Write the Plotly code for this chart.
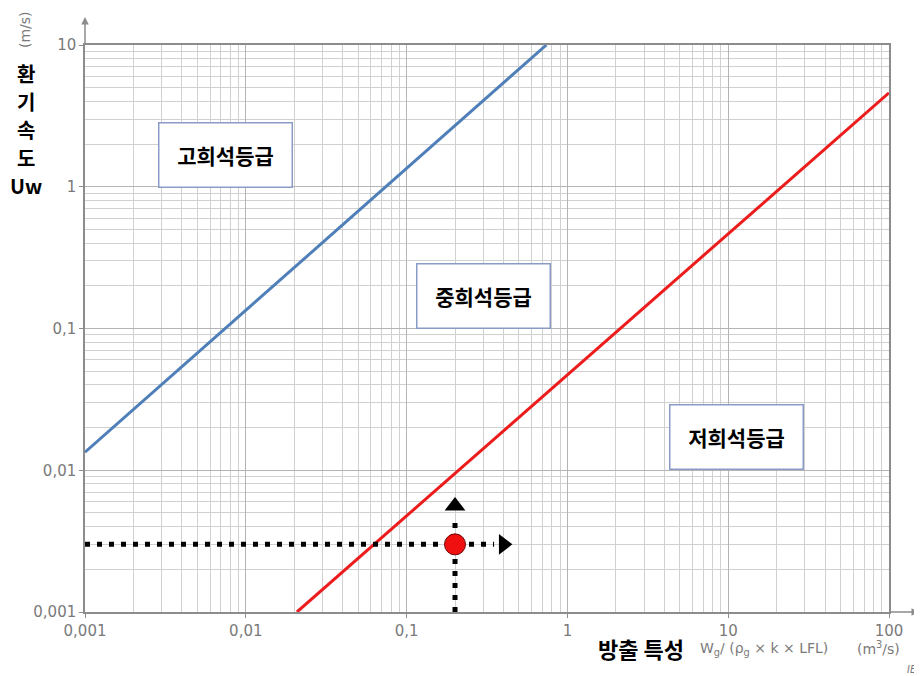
import plotly.graph_objects as go

# lines separating the dilution grades (log-log, slope 1)
high_x = [0.001, 0.74]
high_y = [0.0134, 10]
low_x = [0.0208, 100]
low_y = [0.001, 4.6]

# example point with guide arrows
point_x = [0.2]
point_y = [0.003]
hguide_x = [0.001, 0.35]
hguide_y = [0.003, 0.003]
vguide_x = [0.2, 0.2]
vguide_y = [0.001, 0.0044]
right_head_x = [0.4]
right_head_y = [0.003]
up_head_x = [0.2]
up_head_y = [0.0056]

x_ticks = [0.001, 0.01, 0.1, 1, 10, 100]
x_labels = ["0,001", "0,01", "0,1", "1", "10", "100"]
y_ticks = [0.001, 0.01, 0.1, 1, 10]
y_labels = ["0,001", "0,01", "0,1", "1", "10"]

grade_labels = ["고희석등급", "중희석등급", "저희석등급"]

GRAY = "#7a7a7a"
KFONT = "Noto Sans CJK KR"
LFONT = "DejaVu Sans"

# plot area in page pixels (page has an 8px body margin)
PL, PT, PR, PB = 85, 45, 889, 612
PW, PH = PR - PL, PB - PT


def px(x):
    return (x - PL) / PW


def py(y):
    return (PB - y) / PH


def label(x, y, text, font, **kw):
    kw.setdefault("xanchor", "center")
    fig.add_annotation(x=px(x), y=py(y), xref="paper", yref="paper", text=text,
                       showarrow=False, yanchor="middle", font=font, **kw)


fig = go.Figure()

fig.add_trace(go.Scatter(x=high_x, y=high_y, mode="lines",
                         line=dict(color="#4f7fb8", width=3), hoverinfo="skip"))
fig.add_trace(go.Scatter(x=low_x, y=low_y, mode="lines",
                         line=dict(color="#ec1c1c", width=3), hoverinfo="skip"))

dots = dict(color="black", width=5, dash="5px,7px")
fig.add_trace(go.Scatter(x=hguide_x, y=hguide_y, mode="lines", line=dots, cliponaxis=False))
fig.add_trace(go.Scatter(x=vguide_x, y=vguide_y, mode="lines", line=dots, cliponaxis=False))
fig.add_trace(go.Scatter(x=right_head_x, y=right_head_y, mode="markers",
                         marker=dict(symbol="triangle-right", size=18, color="black")))
fig.add_trace(go.Scatter(x=up_head_x, y=up_head_y, mode="markers",
                         marker=dict(symbol="triangle-up", size=18, color="black")))
fig.add_trace(go.Scatter(x=point_x, y=point_y, mode="markers",
                         marker=dict(size=21, color="#f01010", line=dict(color="#6a0000", width=1))))

axis_common = dict(
    type="log",
    showline=True,
    mirror=True,
    linecolor="#8c8c8c",
    linewidth=1.5,
    showgrid=True,
    gridcolor="#b4b4b4",
    gridwidth=1,
    ticks="outside",
    ticklen=4,
    tickcolor="#8c8c8c",
    tickfont=dict(family=LFONT, size=15, color=GRAY),
    minor=dict(showgrid=True, gridcolor="#d0d0d0", gridwidth=1, dtick="D1"),
    zeroline=False,
)

fig.update_layout(
    width=922,
    height=676,
    margin=dict(l=PL - 8, r=922 + 8 - PR, t=PT - 8, b=676 + 8 - PB),
    paper_bgcolor="white",
    plot_bgcolor="white",
    showlegend=False,
    xaxis=dict(axis_common, range=[-3, 2], tickvals=x_ticks, ticktext=x_labels),
    yaxis=dict(axis_common, range=[-3, 1], tickvals=y_ticks, ticktext=y_labels),
)

# grade boxes
box_pos = [(225.5, 155), (483, 295.5), (736.5, 437)]
for name, (bx, by) in zip(grade_labels, box_pos):
    label(bx, by, f"<b>{name}</b>", dict(family=KFONT, size=21, color="black"),
          width=132, height=63, borderpad=0, borderwidth=1.5,
          bordercolor="#8a9bc6", bgcolor="white")

# axis arrow extensions
fig.add_annotation(x=px(PL), y=py(17), xref="paper", yref="paper", ax=0, ay=28, text="",
                   showarrow=True, arrowhead=2, arrowsize=1, arrowwidth=1.5, arrowcolor="#8c8c8c")
fig.add_annotation(x=px(919), y=py(PB), xref="paper", yref="paper", ax=-30, ay=0, text="",
                   showarrow=True, arrowhead=2, arrowsize=1, arrowwidth=1.5, arrowcolor="#8c8c8c")

# y axis title
label(25, 30, "(m/s)", dict(family=LFONT, size=14, color=GRAY), textangle=-90)
for i, ch in enumerate(["환", "기", "속", "도", "Uw"]):
    label(26, 73 + 28.2 * i, f"<b>{ch}</b>", dict(family=KFONT, size=20, color="black"))

# x axis title
label(641, 648, "<b>방출 특성</b>", dict(family=KFONT, size=22, color="black"))
label(698, 649, "W<sub>g</sub>/ (ρ<sub>g</sub> × k × LFL)",
      dict(family=LFONT, size=14, color=GRAY), xanchor="left")
label(855, 648, "(m<sup>3</sup>/s)", dict(family=LFONT, size=14, color=GRAY), xanchor="left")
label(905, 670, "<i>IEC</i>", dict(family=LFONT, size=10, color=GRAY), xanchor="left")

fig.write_html("out.html")
